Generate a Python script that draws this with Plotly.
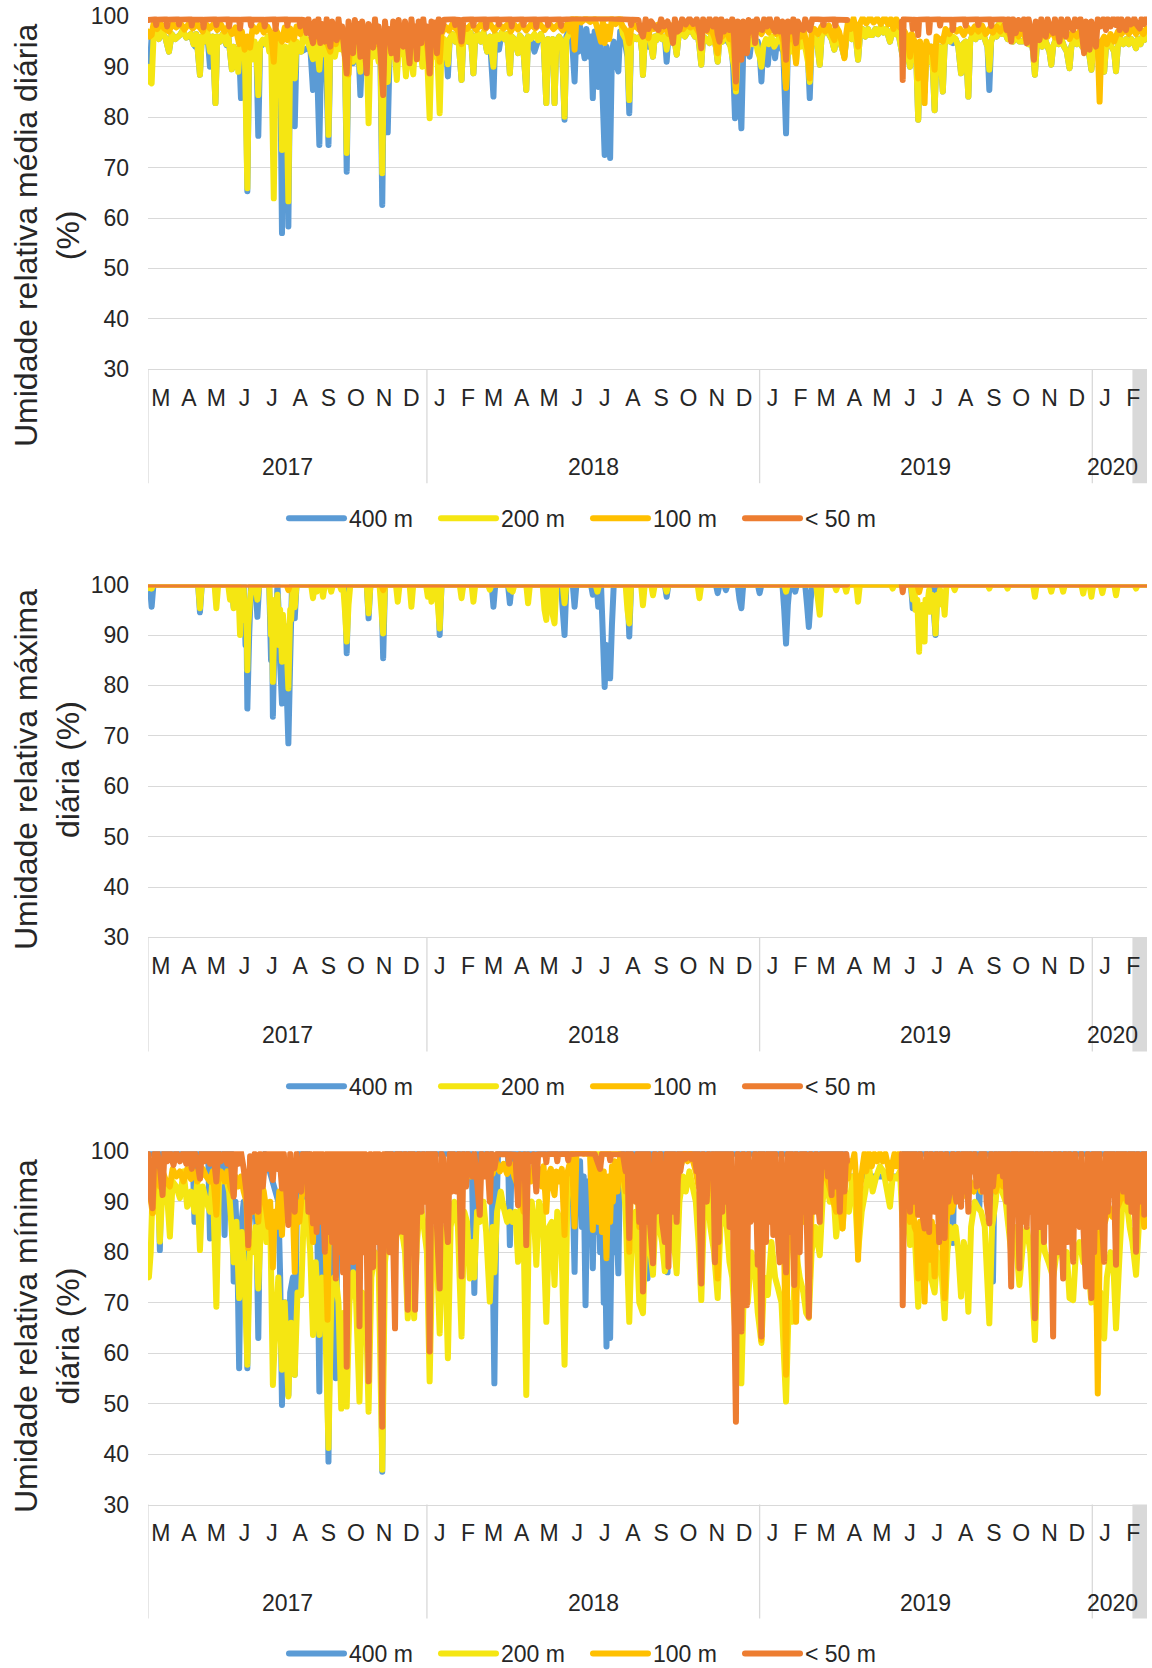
import pandas as pd
import plotly.graph_objects as go

# ---------------------------------------------------------------------------
# Categories, labels and readings
# ---------------------------------------------------------------------------
START = pd.Timestamp("2017-03-01")
END = pd.Timestamp("2020-03-01")

SERIES_NAMES = ["400 m", "200 m", "100 m", "< 50 m"]
SERIES_COLORS = ["#5B9BD5", "#F5E612", "#FFC000", "#ED7D31"]

MONTH_LETTERS = ["M", "A", "M", "J", "J", "A", "S", "O", "N", "D",
                 "J", "F", "M", "A", "M", "J", "J", "A", "S", "O", "N", "D",
                 "J", "F", "M", "A", "M", "J", "J", "A", "S", "O", "N", "D",
                 "J", "F"]
YEAR_LABELS = ["2017", "2018", "2019", "2020"]
YEAR_STARTS = ["2017-03-01", "2018-01-01", "2019-01-01", "2020-01-01"]
Y_TICKS = [30, 40, 50, 60, 70, 80, 90, 100]

PANEL_TITLES = ["Umidade relativa média diária<br>(%)",
                "Umidade relativa máxima<br>diária (%)",
                "Umidade relativa mínima<br>diária (%)"]

# Readings as (days after 1 Mar 2017, relative humidity %); None = no record

# --- daily mean ---
MEAN_400 = [(0,92),(2,90),(4,96),(6,95.5),(9,96.8),(12,95.5),(15,97),(19,95.8),(23,93),(26,96.5),(30,95.5),(35,96.3),(38,97.2),(42,95.8),(47,96.5),(50,94.5),(52,94),(53,96.5),(57,88.4),(59,96),(62,95),(65,96.8),(68,90),(71,96),(74,82.8),(76,96),(79,95),(82,96.5),(86,94.3),(88,96.2),(90,93),(92,89.5),(94,94),(96,90),(98,93.5),(100,93),(102,83.8),(104,94),(107,93),(109,65.3),(111,93),(115,94),(119,93),(121,76.3),(123,94),(130,95),(136,94),(138,90),(140,93),(145,92),(147,57),(149,92),(152,92),(154,58.3),(156,93),(159,93),(161,78.2),(163,94),(168,93),(178,94),(181,85.4),(183,94),(185,93),(188,74.5),(190,93),(195,93),(198,74.5),(200,93),(210,94),(216,93),(218,69.2),(220,93),(223,93),(225,90.7),(227,93),(231,93),(233,84.4),(235,93),(250,93),(255,92),(257,62.6),(259,92),(261,91),(263,77),(265,92),(270,93),(320,93),(327,94),(329,88.1),(331,95.5),(334,96.5),(337,95),(340,96.8),(344,87.4),(346,96),(349,96.5),(351,95),(354,96.8),(357,88.7),(359,96),(362,96.5),(365,95),(368,96.8),(372,93),(375,96),(379,84.1),(381,96.5),(385,93.4),(388,96.8),(391,95.5),(394,96.5),(397,88.7),(399,96),(402,95.5),(406,92.7),(408,96.2),(411,95.5),(415,85.4),(417,96),(420,95.5),(424,93),(428,95.3),(431,96.5),(434,95),(437,82.8),(439,95.5),(442,94.5),(444,95.5),(446,82.8),(448,95),(451,96),(454,95),(457,79.5),(459,96),(463,98),(465,96),(468,87.1),(470,97),(472,93),(474,98),(477,94),(479,91.7),(481,97.5),(484,92),(486,96),(488,83.8),(490,97),(492,90),(494,86),(496,95),(498,88),(501,72.5),(503,94),(505,86),(507,71.9),(509,93),(511,95),(513,91),(516,89.1),(518,97),(522,96),(526,92),(528,80.8),(530,95),(533,96),(536,95.5),(540,96),(542,93),(543,88.4),(545,95.5),(549,94),(551,95.5),(554,92),(556,96),(558,95.3),(561,97),(564,95.5),(567,96),(569,91),(571,96),(574,95),(577,96.3),(580,92.4),(582,96),(585,97),(589,96),(593,97.2),(597,97),(600,96),(603,96.8),(605,94),(607,90.4),(609,96),(612,95.5),(616,94.7),(618,96.5),(621,95.5),(623,94),(625,91),(627,96),(630,95),(633,95.7),(636,95),(640,94),(642,90),(644,79.8),(646,92),(648,90),(651,77.8),(653,93),(656,94),(658,95),(660,92),(662,95),(669,95),(671,93),(673,87.1),(675,94),(678,94),(680,90.4),(682,94.5),(686,95),(688,91.7),(690,95),(697,93),(700,76.8),(702,94),(712,95),(717,95.5),(719,95.3),(721,95),(724,92),(726,83.8),(728,95),(731,96),(734,95),(737,90.4),(739,96),(742,97),(744,98),(747,96.5),(750,95.5),(753,93.4),(755,96),(758,95.5),(761,94),(764,92),(766,95.5),(769,96.5),(772,95.5),(775,97),(777,95),(779,91.4),(781,96),(784,97.5),(787,96),(790,97.5),(792,96.3),(795,96.3),(798,97.5),(801,96.5),(804,98),(807,96.8),(810,97.5),(814,95),(817,97.5),(820,96.5),(823,97),(826,94),(828,92),(831,95),(834,92),(836,90),(838,94),(841,93),(843,91),(845,79.5),(847,91),(849,92),(852,85),(854,93),(857,91),(859,94),(861,90),(863,81.4),(865,92),(868,94),(870,91),(872,85.1),(874,94.5),(877,95.5),(880,95),(883,94.7),(886,95.5),(889,94),(892,88.7),(894,94.5),(897,95),(900,84.1),(902,95),(905,96.5),(908,95.5),(910,97),(913,96),(916,96.8),(919,95),(921,94),(923,85.4),(925,95),(928,96.5),(931,96),(934,98.6),(937,96.5),(940,97),(943,95.5),(946,96.5),(949,95),(952,96),(956,95),(960,95),(963,96),(966,94.5),(969,96),(971,93),(973,88.4),(975,94),(978,95.5),(981,94),(984,95.5),(987,94),(989,93),(991,90.4),(993,94),(996,95.5),(999,94.5),(1002,95.5),(1005,94),(1008,93),(1011,89.7),(1013,94),(1016,95.5),(1019,94.5),(1022,95.5),(1025,94),(1028,95),(1031,93.5),(1033,92),(1035,89.4),(1037,94),(1040,95),(1043,93),(1046,94.5),(1049,89),(1051,94),(1054,95),(1057,94),(1060,93),(1062,89.1),(1064,94),(1067,95.5),(1070,94.5),(1073,95.5),(1076,94.5),(1079,95.5),(1082,94.5),(1084,93.7),(1086,95.5),(1089,94.5),(1091,96),(1093,95.3),(1095,96)]

MEAN_200 = [(0,90),(2,87),(4,86.7),(6,95.5),(9,96.8),(12,95.5),(15,97),(19,95.8),(23,93),(26,96.5),(30,95.5),(35,96.3),(38,97.2),(42,95.8),(47,96.5),(50,94.5),(53,96.5),(57,88.4),(59,96),(62,95),(65,96.8),(68,93),(71,96),(74,82.8),(76,96),(79,95),(82,96.5),(86,94.5),(88,96.2),(90,93),(92,89.5),(94,94),(96,90),(98,93.5),(99,89),(101,94.5),(103,92.5),(106,95),(109,65.9),(111,94),(113,92),(115,91.5),(117,95),(119,92.5),(121,84.4),(123,94.5),(126,95.4),(129,94.5),(131,96),(133,93),(135,95.5),(138,63.9),(140,92),(143,90),(145,95),(147,73.5),(149,92),(151,94),(154,63.3),(156,93),(158,95.5),(161,87.7),(163,95),(165,93.5),(168,93),(170,96),(174,95.5),(177,94),(181,91.5),(183,95),(186,93),(188,89.4),(190,95),(193,92.5),(196,94),(198,76.5),(200,94.5),(203,93),(205,92),(208,95),(211,93.5),(214,95),(216,92),(218,72.9),(220,94),(222,92.5),(225,91),(227,95),(230,93),(233,89),(235,94.5),(238,92),(240,93),(242,78.8),(244,94),(247,92),(250,94.5),(253,91),(255,93.5),(257,68.9),(259,93),(261,91),(263,87),(265,94),(268,92),(270,94.5),(273,87.4),(275,94),(278,92.5),(280,95),(283,88.1),(285,94),(288,92),(291,88.5),(293,94.5),(296,93),(298,95),(301,90),(303,94),(306,93),(309,79.8),(311,94.5),(314,92),(317,95),(320,80.8),(322,94),(325,95.5),(329,90.5),(331,95.5),(334,96.5),(337,95),(340,96.8),(344,87.4),(346,96),(349,96.5),(351,95),(354,96.8),(357,88.7),(359,96),(362,96.5),(365,95),(368,96.8),(372,93),(375,96),(379,90),(381,96.5),(385,95.5),(388,96.8),(391,95.5),(394,96.5),(397,88.7),(399,96),(402,95.5),(406,92.7),(408,96.2),(411,95.5),(415,85.4),(417,96),(420,95.5),(424,96.5),(428,95.3),(431,96.5),(434,95),(437,82.8),(439,95.5),(442,94.5),(444,95.5),(446,82.8),(448,95),(451,96),(454,95),(457,80.1),(459,95.5),(462,96.5),(465,99.5),(470,99.8),(476,99.3),(482,99.8),(488,99.4),(494,99.8),(500,99.4),(506,99.8),(512,99.3),(518,99.7),(521,96.5),(524,95.5),(526,93),(528,83.4),(530,95),(533,96),(536,95.5),(540,96),(542,93),(543,88.4),(545,95.5),(548,96.5),(551,95.5),(554,92),(556,96),(558,95.3),(561,97),(564,95.5),(567,96),(569,93.4),(571,96),(574,95),(577,96.3),(580,92.4),(582,96),(585,97),(589,96),(593,97.2),(597,97),(600,96),(603,96.8),(605,94),(607,90.4),(609,96),(612,95.5),(616,94.7),(618,96.5),(621,95.5),(623,94),(625,91),(627,96),(630,95),(633,96.5),(636,95.5),(639,94),(641,92),(643,90),(645,85.1),(647,93),(649,92),(651,94),(654,95.5),(657,93),(660,95.5),(663,94.5),(666,95.8),(669,93),(671,92),(673,90),(675,94),(678,95.5),(681,94.5),(684,96),(687,94),(690,95),(693,96),(696,94.5),(698,92),(700,86),(702,94),(705,93),(708,95.5),(711,91),(713,95),(716,94),(719,95.5),(722,93),(724,91),(726,87),(728,95),(731,96),(734,95),(737,90.4),(739,96),(742,97),(744,98),(747,96.5),(750,95.5),(753,93.4),(755,96),(758,95.5),(761,94),(764,92),(766,95.5),(769,96.5),(772,95.5),(775,97),(777,95),(779,91.4),(781,96),(784,97.5),(787,96),(790,97.5),(792,96.3),(795,96.3),(798,97.5),(801,96.5),(804,98),(807,96.8),(810,97.5),(814,95),(817,97.5),(820,96.5),(823,97),(826,94),(828,92),(831,95),(834,92),(836,90),(838,94),(841,93),(843,91),(845,79.5),(847,91),(849,92),(852,85),(854,93),(857,91),(859,94),(861,90),(863,81.4),(865,92),(868,94),(870,91),(872,85.1),(874,94.5),(877,95.5),(880,95),(883,96),(886,95.5),(889,94),(892,88.7),(894,94.5),(897,95),(900,84.1),(902,95),(905,96.5),(908,95.5),(910,97),(913,96),(916,96.8),(919,95),(921,94),(923,89.4),(925,95),(928,96.5),(931,96),(934,98.6),(937,96.5),(940,97),(943,95.5),(946,96.5),(949,95),(952,96),(956,95),(960,95),(963,96),(966,94.5),(969,96),(971,93),(973,88.4),(975,94),(978,95.5),(981,94),(984,95.5),(987,94),(989,93),(991,90.4),(993,94),(996,95.5),(999,94.5),(1002,95.5),(1005,94),(1008,93),(1011,89.7),(1013,94),(1016,95.5),(1019,94.5),(1022,95.5),(1025,94),(1028,95),(1031,93.5),(1033,92),(1035,89.4),(1037,94),(1040,95),(1043,93),(1046,94.5),(1049,89),(1051,94),(1054,95),(1057,94),(1060,93),(1062,89.1),(1064,94),(1067,95.5),(1070,94.5),(1073,95.5),(1076,94.5),(1079,95.5),(1082,94.5),(1084,93.7),(1086,95.5),(1089,94.5),(1091,96),(1093,95.3),(1095,96)]

MEAN_100 = [(0,97),(2,96),(4,96.3),(6,98.5),(10,97.5),(14,98.5),(18,97.6),(23,97),(27,98.6),(31,97.8),(36,98.5),(40,97.4),(45,98.6),(49,97.6),(54,98.5),(58,97.5),(60,97),(63,98.6),(68,97.6),(72,98.5),(76,97.3),(80,98.4),(84,97),(88,98),(92,96.5),(96,97.8),(100,94.5),(103,97),(106,93.4),(109,96),(112,93.8),(115,98),(119,97),(123,98.3),(127,96.8),(131,98),(135,96.5),(138,91),(140,97.5),(144,96),(147,95),(150,97.8),(153,95.3),(156,97.6),(160,95.5),(163,98),(167,96.5),(171,98.2),(175,97),(179,98),(182,95),(185,97.5),(188,95.5),(192,97.5),(196,95),(200,93),(203,97),(206,94.5),(210,97),(214,95.5),(218,91.5),(220,88.5),(222,96),(226,95.5),(230,97),(234,94),(238,96.5),(242,95),(246,97),(250,94.5),(254,96.5),(258,88),(260,96),(264,97),(268,95),(272,96.5),(276,95.5),(280,97),(284,95),(288,96.8),(292,95.3),(296,97.5),(300,95.8),(304,97),(307,93),(309,88.7),(311,96),(314,95.5),(317,97),(320,91),(322,96.5),(326,98),(330,97.2),(334,98.5),(338,97.5),(341,97),(344,94.5),(346,98),(350,97.5),(355,98.5),(360,97.3),(365,98.4),(370,97.5),(375,98.6),(380,97.2),(385,98.4),(390,97.6),(395,98.5),(398,97),(402,98.3),(406,97.4),(410,98.5),(415,97.2),(420,98.4),(425,97.6),(430,98.5),(435,97.3),(440,98.6),(445,97.5),(450,98.4),(455,97.2),(460,98.5),(463,97),(466,99.5),(468,93.4),(470,99.5),(475,98.8),(480,99.6),(485,98.9),(490,99.5),(494,97),(497,95),(499,99),(501,94.7),(503,98),(506,95.5),(509,99.5),(513,98.5),(517,99.5),(521,98),(525,97),(528,94.7),(530,97.5),(534,98.3),(538,97.5),(541,98),(545,97),(549,95.7),(551,98),(555,97.5),(559,98.3),(563,97),(567,98),(571,96.5),(575,98.2),(579,96.8),(583,98),(587,97.5),(591,98.4),(595,97.8),(599,98.5),(603,97.2),(607,96),(610,98),(614,97),(618,97.5),(622,95.5),(625,92.7),(627,97),(630,96),(634,97.5),(638,95.5),(641,97),(643,93),(645,85.8),(647,96),(650,95),(653,97.5),(657,96),(661,97.6),(665,96),(669,97.8),(673,96.5),(677,98),(681,96.8),(685,98),(689,96.5),(693,97.5),(697,95),(700,85.8),(702,96.5),(705,95.5),(708,97.5),(711,90.7),(713,97),(716,96),(719,97.5),(722,95),(724,93),(726,87.7),(728,96.5),(731,97.5),(735,96.5),(739,98),(743,97),(747,98.2),(750,96.5),(753,95.3),(755,98),(758,97),(761,95),(764,91.7),(766,96.5),(768,99),(771,97.5),(774,99.6),(777,97),(779,94),(781,98.5),(784,99.7),(788,98.6),(792,99.8),(796,98.8),(800,99.6),(804,98.5),(808,99.8),(812,98.4),(815,99.5),(818,97.5),(821,99.5),(824,98),(827,97.5),(830,97),(833,96),(836,92),(838,96.5),(841,95),(843,93),(845,87.7),(847,95),(850,92),(852,82.8),(854,95),(857,93),(860,94),(863,89.4),(865,96),(868,95.5),(872,95),(875,97.5),(879,96.5),(883,97.8),(887,97),(891,97.5),(895,96.3),(899,97.8),(903,96.8),(907,98),(911,97),(915,98.2),(919,96.5),(923,97.5),(927,96.8),(931,98),(935,97),(939,98.2),(943,97),(947,96),(951,97.5),(955,96),(959,97.5),(963,95.5),(967,97.5),(971,95.5),(975,97),(979,95.8),(983,97.2),(987,96),(991,97.3),(995,95.8),(999,97),(1003,96),(1007,97.2),(1011,95.5),(1015,97),(1019,96),(1023,97.3),(1027,95.5),(1031,97),(1035,95.5),(1039,96.5),(1042,94),(1044,83.1),(1046,95),(1049,96),(1052,94.5),(1056,96.5),(1060,95),(1064,97),(1068,96.5),(1072,97.5),(1076,96.5),(1080,97.8),(1084,96.5),(1088,97.5),(1092,96.5),(1095,97.5)]

MEAN_LT50 = [(0,99.3),(8,99.5),(9,98.3),(10,99.4),(20,99.5),(21,98),(22,99.4),(33,99.5),(34,98.4),(35,99.4),(47,99.5),(48,98.2),(49,99.4),(60,99.4),(61,97.8),(62,99.4),(74,99.5),(75,98.3),(76,99.4),(88,99.5),(89,98),(90,99.4),(100,99.4),(101,97.6),(102,99.4),(112,99.5),(113,98.2),(114,99.4),(127,99.4),(128,98),(129,99.4),(139,99.5),(140,97.5),(141,99.4),(152,99.5),(153,98.2),(154,99.4),(166,99.4),(167,98),(168,99.4),(172,99.2),(174,96.7),(176,99.5),(178,97),(181,94.7),(183,99),(185,96),(187,99.5),(189,94.7),(191,98.5),(194,95),(196,99.5),(198,95.5),(200,94),(202,99),(204,96),(207,95.3),(209,99.5),(211,96),(213,98),(215,94),(218,88.7),(220,99),(222,95),(225,92.7),(227,99.3),(229,95),(231,98.5),(233,92),(235,99),(237,95.5),(240,88.7),(242,98.5),(244,96),(247,93.8),(249,99.5),(251,95),(253,98),(255,93),(258,84.4),(260,99),(262,95),(264,97.5),(267,92.7),(269,99),(271,96),(273,91.4),(275,99.3),(277,95),(280,94),(282,99),(284,96),(287,90.7),(289,99.5),(291,96),(293,98),(295,91.5),(297,99),(300,94.7),(302,99.5),(304,96),(306,98),(309,88.7),(311,99),(313,96),(315,98.8),(317,92.7),(319,99.5),(322,97),(325,99.4),(336,99.5),(337,98.3),(338,99.4),(342,99.3),(344,95),(346,99.4),(356,99.5),(357,98.2),(358,99.4),(370,99.5),(371,97.8),(372,99.4),(384,99.5),(385,98.4),(386,99.4),(398,99.5),(399,98),(400,99.4),(411,99.5),(412,98.3),(413,99.4),(425,99.5),(426,97.9),(427,99.4),(438,99.5),(439,98.3),(440,99.4),(452,99.5),(453,98.1),(454,99.4),(466,99.6),(480,99.6),(494,99.6),(508,99.6),(520,99.5),(529,99.4),(530,98.3),(531,99.4),(538,99.3),(540,97.3),(543,96),(546,99.5),(549,97.5),(552,99),(556,98),(560,97.3),(563,99.5),(566,98),(570,99),(573,97.5),(576,94.7),(578,99.5),(581,97),(583,97.3),(586,99.5),(590,98.4),(594,99.6),(598,98.5),(602,99.5),(605,97),(607,93.7),(609,99.5),(611,97.5),(613,97.3),(616,99.6),(620,98),(623,99.5),(625,96.5),(627,95),(629,99.5),(632,97),(635,99),(638,97.3),(641,99.5),(643,96),(645,87.1),(647,99),(649,95),(651,91.4),(653,99),(655,96),(657,92.7),(659,99.3),(662,97),(664,99),(666,94.7),(668,99.5),(671,97.5),(674,97.3),(676,99.5),(679,98),(682,99.6),(685,98),(688,97),(690,99.5),(693,97),(696,99),(698,96),(700,91.4),(702,99),(705,97),(708,99.5),(711,94.7),(713,99),(716,97.5),(719,97.3),(721,99.5),(724,98),(726,97.3),(729,99.6),(740,99.4),(741,98.3),(742,99.4),(753,99.5),(754,98.2),(755,99.4),(767,99.3),(797,None),(827,99),(828,87.4),(829,99.5),(838,99.4),(839,97.5),(840,99.4),(844,99.3),(845,96.3),(846,99.4),(856,99.5),(857,96.8),(858,99.4),(868,99.5),(869,98.2),(870,99.4),(882,99.4),(883,97.3),(884,99.4),(896,99.5),(897,98.2),(898,99.4),(910,99.5),(911,98.3),(912,99.4),(924,99.5),(925,98.1),(926,99.4),(938,99.5),(940,99.4),(942,97.3),(944,99.5),(947,95),(949,99.5),(952,96.7),(955,99.3),(958,97.5),(961,99.5),(964,94.7),(966,99.5),(969,97),(972,91.4),(974,99),(976,96),(978,95.3),(980,99.5),(982,97),(985,96),(987,99.5),(990,97.5),(993,96.7),(995,99.5),(998,97),(1000,95),(1002,99.5),(1005,97),(1007,96),(1009,99.5),(1012,98),(1015,97.3),(1017,99.5),(1020,98),(1023,99.5),(1025,96),(1027,92.7),(1029,99),(1031,96),(1033,93.4),(1035,99),(1037,97),(1040,94),(1042,99.5),(1045,98),(1048,99.5),(1051,97.3),(1053,99.5),(1056,98),(1059,99.6),(1062,98.3),(1064,99.5),(1066,97.3),(1068,99.5),(1071,98),(1073,97.3),(1075,99.5),(1078,98.4),(1080,98.6),(1082,99.6),(1085,98.3),(1088,97.6),(1090,99.5),(1093,98.5),(1095,99.6)]

# --- daily maximum ---
MAX_400 = [(0,100),(2,100),(4,95.6),(6,100),(55,100),(57,94.5),(59,100),(92,100),(94,95.5),(96,100),(105,100),(107,88),(108,94),(109,75.4),(111,90),(113,100),(118,100),(120,93.6),(122,100),(133,100),(135,85),(136,95),(137,73.8),(139,92),(140,88),(142,100),(143,96),(145,84),(147,76.4),(149,92),(150,82),(152,80),(154,68.5),(156,85),(158,100),(159,100),(161,93.3),(163,100),(216,100),(218,86.4),(220,100),(240,100),(242,93.3),(244,100),(256,100),(258,85.4),(260,100),(318,100),(320,90),(322,100),(377,100),(379,95.6),(381,100),(395,100),(397,96.3),(399,100),(453,100),(455,95),(457,90),(459,100),(466,100),(468,95.6),(470,100),(486,100),(488,98),(490,100),(492,100),(494,95.6),(496,100),(497,100),(499,90),(501,79.7),(503,88),(505,85),(507,81.4),(509,92),(511,100),(526,100),(528,89.7),(530,100),(567,100),(569,97.6),(571,100),(623,100),(625,98.3),(627,100),(632,100),(634,98.9),(636,100),(647,100),(649,97),(651,95.3),(653,100),(669,100),(671,98.3),(673,100),(696,100),(698,95),(700,88.3),(702,96),(704,100),(708,100),(710,98.6),(712,100),(721,100),(723,96),(725,91.6),(727,97),(729,100),(837,100),(839,95.3),(841,100),(860,100),(862,95),(864,90),(866,100),(1095,100)]

MAX_200 = [(0,99.3),(2,100),(4,99.2),(6,100),(55,100),(57,95.3),(59,100),(73,100),(75,95.3),(77,100),(88,100),(90,97),(92,100),(94,95.3),(96,99),(97,96),(99,100),(101,90),(102,97),(104,95),(105,99),(106,93),(108,95),(109,83),(110,92),(112,97),(114,100),(118,100),(120,97),(122,100),(133,100),(135,90),(136,97),(137,80.7),(139,95),(140,92),(142,98),(144,88),(145,95),(147,84.7),(148,94),(150,90),(152,88),(154,79.4),(156,95),(157,93),(159,100),(161,95.5),(163,100),(179,100),(181,97.3),(183,100),(185,98.6),(187,100),(190,100),(192,97.6),(194,100),(199,100),(201,98.6),(203,100),(210,100),(212,99),(214,100),(216,95),(218,88.7),(220,96),(222,100),(240,100),(242,94.3),(244,100),(254,100),(256,95),(258,90.3),(260,100),(272,100),(274,96.6),(276,100),(287,100),(289,95.6),(291,100),(305,100),(307,97.6),(309,100),(311,96.6),(313,100),(316,100),(318,96),(320,91.3),(322,100),(342,100),(344,97.3),(346,100),(355,100),(357,96.6),(359,100),(373,100),(375,99),(377,100),(395,100),(397,99),(399,100),(400,98.6),(402,100),(415,100),(417,96.3),(419,100),(433,100),(435,95),(437,93),(439,100),(442,100),(444,94),(446,92.3),(448,100),(455,100),(457,96.3),(459,100),(491,100),(493,98.6),(495,100),(524,100),(526,95),(528,92.3),(530,100),(541,100),(543,95.9),(545,100),(552,100),(554,97.9),(556,100),(567,100),(569,98.6),(571,100),(603,100),(605,97.3),(607,100),(698,100),(700,98.6),(702,100),(733,100),(735,97),(737,94),(739,100),(753,100),(755,98.9),(757,100),(764,100),(766,98.6),(768,100),(777,100),(779,96.6),(781,100),(815,100),(817,99.2),(819,100),(837,100),(839,97),(841,99),(842,95),(844,97),(846,86.7),(847,95),(849,90),(850,96),(852,88.7),(853,97),(855,96),(857,99),(858,94.6),(860,98),(861,95),(862,97),(864,90.3),(866,98),(867,97),(869,99),(871,96),(872,98),(874,94),(876,100),(883,100),(885,98.9),(887,100),(921,100),(923,99.2),(925,100),(941,100),(943,99.2),(945,100),(971,100),(973,97.6),(975,100),(989,100),(991,98.6),(993,100),(1002,100),(1004,98.6),(1006,100),(1024,100),(1026,98.2),(1028,100),(1033,100),(1035,97.6),(1037,100),(1045,100),(1047,98.3),(1049,100),(1060,100),(1062,97.9),(1064,100),(1082,100),(1084,99.2),(1086,100),(1095,100)]

MAX_100 = [(0,100),(152,100),(154,98.9),(156,100),(256,100),(258,98.9),(260,100),(844,100),(846,98.5),(848,100),(1095,100)]

MAX_LT50 = [(0,100),(767,100),(797,None),(827,100),(828,98.5),(829,100),(1095,100)]

# --- daily minimum ---
MIN_400 = [(0,99.5),(11,99.5),(13,80.4),(15,99.5),(49,99.5),(51,86),(53,99.5),(66,99.5),(68,82.7),(70,99.5),(82,99.5),(84,83.4),(86,99.5),(92,99.5),(94,74.2),(96,90),(98,80),(100,57),(102,85),(105,90),(107,80),(109,57),(111,85),(116,95),(119,85),(121,63),(123,90),(128,99.5),(143,90),(145,75),(147,49.7),(149,70),(151,70),(154,51.7),(156,72),(159,75),(161,55.7),(163,85),(166,99.5),(172,99.5),(174,84.7),(176,99.5),(185,95),(188,52.4),(190,90),(195,80),(198,38.5),(200,80),(203,85),(206,55),(208,90),(222,95),(225,75.8),(227,95),(253,95),(255,80),(257,36.5),(259,85),(262,99.5),(355,99.5),(358,71.9),(361,99.5),(377,99.5),(378,80),(380,54),(382,85),(384,99.5),(395,99.5),(397,81.4),(399,99.5),(463,99.5),(465,99),(468,76.1),(470,97),(472,88),(474,98),(476,85),(478,95),(480,69.5),(482,94),(484,86),(486,96),(488,76.8),(490,94),(492,84),(494,97),(496,80),(498,92),(500,70),(501,88),(503,61.3),(505,85),(507,63),(509,88),(511,80),(513,92),(516,75.8),(518,99.5),(546,99.5),(548,74.8),(550,99.5),(568,99.5),(570,76),(572,99.5),(620,99.5),(622,78.1),(624,99.5),(684,99.5),(686,95),(688,99.5),(765,99.5),(768,95),(826,95),(829,99.5),(881,99.5),(883,81.8),(885,99.5),(910,99.5),(912,88.7),(914,99.5),(925,99.5),(927,74.2),(929,99.5),(1095,99.5)]

MIN_200 = [(0,76),(1,75),(3,80),(5,92),(7,88),(10,95),(13,82.1),(16,93),(20,94),(24,83.1),(27,94),(31,93),(35,90.7),(39,96),(43,89),(47,92),(51,88),(54,94),(57,80.4),(60,93),(64,90),(68,88),(71,95),(75,69.2),(78,95),(81,94),(86,94.6),(89,92),(92,84),(94,78),(97,86),(100,70.9),(103,84),(106,75),(109,57.7),(112,82),(115,80),(118,85),(121,72.8),(124,86),(127,90),(130,82),(134,88),(137,53.7),(140,66),(143,75),(147,56.7),(150,70),(154,51.4),(157,66),(161,55.7),(164,72),(168,71.5),(171,88),(174,90),(178,80),(181,63.6),(184,78),(188,63.6),(191,75),(194,70),(198,41.2),(201,70),(204,75),(206,75),(209,70),(212,49),(215,68),(218,49.4),(221,70),(225,76),(228,72),(232,50.4),(235,72),(239,70),(242,48.4),(245,75),(249,80),(253,78),(257,36.9),(260,78),(264,85),(268,88),(271,80),(275,88),(278,85),(282,80),(285,66.9),(288,80),(292,66.9),(295,82),(299,90),(302,86),(306,80),(309,54.4),(312,80),(316,85),(320,63.9),(323,85),(326,80),(329,59),(332,85),(336,90),(340,85),(344,63.3),(347,88),(350,86),(353,74.8),(356,82),(358,75),(361,88),(364,86),(368,90),(371,84),(375,70.2),(378,85),(380,76),(383,88),(387,92),(390,89),(394,86),(397,88),(400,86),(403,88),(406,78.1),(409,90),(412,85),(415,51.7),(418,88),(421,90),(424,85),(426,77.5),(429,90),(433,88),(437,66.2),(440,85),(443,86),(446,73.5),(449,88),(453,86),(457,57.7),(460,90),(463,95),(466,99.5),(475,99.8),(485,99.4),(495,99.8),(505,99.4),(515,99.8),(520,99),(524,88),(528,66.2),(531,85),(535,88),(539,70),(543,67.9),(546,85),(550,82),(554,75.5),(557,88),(561,85),(564,82),(567,76.2),(571,80),(574,88),(577,82),(580,75.8),(583,90),(587,95),(590,92),(594,96),(598,92.6),(601,90),(604,82),(607,70.5),(610,88),(614,92),(617,85),(621,80),(625,70.9),(628,85),(632,89),(635,85),(638,78),(641,75),(645,62),(648,65),(651,54),(654,75),(658,70),(662,80),(666,76),(669,68),(673,62),(676,75),(680,71.5),(684,82),(688,75),(691,73),(695,70),(700,50.4),(703,70),(707,66.2),(711,80),(715,75),(719,72),(722,68),(725,67),(728,80),(732,85),(737,79.4),(740,90),(744,94.6),(748,90),(752,92),(755,83.1),(758,88),(762,84.7),(765,92),(769,88),(773,95),(776,90),(779,80),(783,88),(787,92),(791,97),(795,92),(799,95),(803,97),(807,96),(811,92),(814,89),(817,95),(821,94.6),(825,96),(828,85),(832,90),(836,81.4),(840,88),(845,69.2),(848,80),(852,72),(855,80),(859,75),(863,72),(866,80),(870,78),(874,66.9),(877,80),(880,85),(883,82.8),(886,85),(889,80),(892,71.2),(895,82),(897,80),(900,68.2),(903,85),(907,90),(910,89),(914,88),(918,85),(923,65.9),(926,85),(930,90),(933,97.3),(937,92),(941,90),(944,85),(947,80),(951,85),(956,73.5),(960,82),(964,85),(968,80),(973,62.6),(976,78),(980,85),(984,80),(988,78),(993,75),(997,80),(1001,82),(1004,78),(1008,80),(1011,70.9),(1015,70.5),(1018,80),(1022,82),(1026,78),(1030,80),(1035,70),(1038,78),(1042,65),(1045,72),(1049,62.9),(1052,75),(1056,80),(1059,78),(1062,64.9),(1066,80),(1069,90),(1073,91.3),(1077,85),(1080,82),(1084,75.5),(1087,85),(1091,90),(1095,92)]

MIN_100 = [(0,95),(2,92),(5,87.7),(7,95),(10,96),(13,93),(16,96),(20,94),(24,93),(27,96.5),(31,95),(35,96),(39,94),(43,96.5),(47,94.5),(51,96),(54,94),(57,94.6),(60,96.5),(64,95),(68,94),(71,96),(73,92),(75,87.4),(77,95),(80,96),(84,94),(87,96),(90,93),(92,92),(94,91.3),(96,95),(99,93),(102,95),(105,92),(108,90),(110,80.8),(112,92),(115,88),(118,92),(121,86),(124,94),(127,92),(130,88),(132,85),(134,90),(137,77),(139,88),(141,85),(144,92),(147,83.4),(149,92),(152,88),(154,86),(156,91),(159,88),(161,76.1),(163,90),(166,86),(168,90),(171,94),(174,95),(177,92),(181,82),(183,94),(186,90),(189,93),(192,90),(195,80),(197,66.6),(199,90),(202,92),(206,88),(210,92),(214,88),(218,85),(222,90),(226,88),(230,92),(234,89),(238,92),(242,88),(246,92),(250,89),(254,92),(258,86),(262,92),(266,89),(270,92),(274,88),(278,93),(282,90),(286,93),(290,90),(294,93),(298,91),(302,94),(306,92),(310,94),(314,92),(318,95),(322,93),(326,96),(330,94),(334,96.5),(338,95),(342,97),(346,95.5),(350,97),(354,95),(358,97),(362,95),(366,97.5),(370,95.5),(374,97.5),(378,95.5),(382,98),(386,96),(390,97.5),(394,95.5),(398,97.5),(402,95),(406,93),(408,96),(410,90),(412,88),(414,95),(417,96),(420,94),(423,97),(426,94),(429,96.5),(432,93),(434,97),(437,88),(439,95),(442,96.5),(444,93),(446,91.3),(448,96),(451,94),(454,96.5),(457,83.4),(459,95),(462,97),(465,99.5),(468,85.1),(470,99.5),(474,99.8),(478,99.5),(482,99.8),(485,99),(488,84.4),(490,98),(492,88),(494,86),(496,97),(498,84),(500,96),(503,78.8),(505,95),(507,86),(509,97),(510,90),(512,98),(515,92),(518,99),(521,96),(524,92),(526,96),(528,80.1),(530,94),(533,92),(536,95),(539,85),(541,94),(544,92),(547,95),(550,90),(553,94),(556,91),(559,95),(562,90),(565,94),(568,91),(571,94),(574,92),(577,95),(580,93),(583,96),(586,98),(589,99.5),(592,98),(595,99.5),(598,98),(601,96),(604,93),(607,92),(610,95),(613,93),(616,97),(619,94),(622,88),(625,74.8),(627,92),(630,94),(633,92),(636,95),(639,90),(642,92),(645,88),(648,90),(651,85),(654,90),(657,88),(660,92),(663,88),(666,92),(669,84),(671,80),(673,62.6),(675,88),(678,92),(681,88),(684,92),(687,88),(690,91),(693,86),(696,88),(698,80),(700,55.7),(702,85),(705,88),(708,82),(711,66.2),(713,85),(716,90),(719,86),(722,88),(724,84),(726,75),(728,88),(731,92),(734,90),(737,93),(740,95),(743,97),(746,94),(749,92),(752,90),(755,88),(757,93),(760,88),(762,84.7),(764,92),(766,95),(768,94.6),(770,98),(772,97),(775,99.5),(777,94),(779,78.5),(781,92),(784,97),(786,99.5),(788,96),(791,99.6),(794,97),(797,99.5),(800,98),(803,99.6),(806,98),(809,99.5),(812,97),(814,94.6),(816,97),(819,99.5),(821,97),(824,99.5),(826,96),(828,92),(831,90),(834,88),(836,86),(838,90),(841,85),(843,84),(845,74.8),(847,86),(849,84),(852,70.2),(854,84),(856,80),(858,78.5),(860,86),(863,75.2),(865,85),(868,82),(871,84),(874,70.9),(876,86),(879,90),(882,88),(886,92),(890,90),(894,93),(898,91),(902,94),(906,92),(910,95),(914,92),(918,94),(922,91),(926,94),(930,92),(934,95),(938,93),(942,94),(946,90),(950,92),(954,88),(958,92),(962,88),(966,91),(970,88),(974,90),(978,88),(982,90),(986,87),(990,90),(994,87),(998,90),(1002,86),(1006,89),(1010,87),(1014,90),(1018,86),(1022,89),(1026,86),(1030,89),(1034,86),(1038,88),(1040,80),(1042,52),(1044,80),(1047,88),(1050,86),(1054,89),(1058,87),(1062,88),(1066,90),(1070,92),(1074,90),(1078,92),(1082,89),(1086,92),(1090,90),(1093,85),(1095,90)]

MIN_LT50 = [(0,99.5),(2,92),(5,88.7),(7,99.5),(10,100),(13,97),(16,91.3),(18,99.8),(21,98),(24,99.8),(28,97.3),(31,99.8),(35,98),(39,99.8),(42,97.5),(45,99.8),(48,96.5),(51,99.8),(54,98),(57,94.6),(59,99.8),(62,98),(65,99.8),(68,97.5),(71,99.8),(73,97.5),(75,94),(77,99.8),(80,98),(84,99.8),(87,97.5),(90,99.8),(92,95),(94,91),(96,99.8),(99,97.5),(102,99.8),(105,96.5),(108,92),(110,81.4),(112,99),(115,88),(117,99.5),(119,90),(121,88),(123,99.5),(126,93),(129,99.8),(132,96.5),(134,99.8),(137,94.3),(139,99.8),(142,96.5),(144,99.8),(147,92.6),(149,99.5),(151,94),(154,85.4),(156,99.5),(158,92),(161,88),(163,99.5),(165,94),(168,92),(170,99.5),(172,97),(174,99.5),(176,88),(178,99.5),(181,85.7),(183,99.5),(185,84),(187,99.5),(189,86),(191,99.5),(194,80.1),(196,99.5),(198,84),(200,99.5),(202,82),(204,99.5),(206,74.8),(208,99.5),(210,80),(212,99.5),(214,76),(216,99.5),(218,57.3),(220,99.5),(222,80),(223,99.5),(225,78),(227,99.5),(229,82),(230,99.5),(232,65.3),(234,99.5),(236,80),(238,99.5),(240,82),(242,54.4),(244,99.5),(245,80),(247,77),(249,99.5),(251,82),(253,99.5),(255,80),(257,45.4),(259,99.5),(261,85),(263,99.5),(265,80),(267,99.5),(269,82),(271,64.9),(273,99.5),(275,84),(277,99.5),(280,84),(282,99.5),(285,68.6),(287,99.5),(289,82),(291,99.5),(293,68.6),(295,85),(297,99.5),(300,88),(302,99.5),(304,90),(306,94.6),(307,99.5),(309,60.3),(311,99.5),(313,88),(315,99.5),(317,85),(320,72.8),(322,99.5),(324,98.6),(326,90),(329,82),(331,99.5),(333,92),(335,99.5),(338,92),(341,99.5),(344,75.2),(346,99.5),(349,93),(351,99.5),(353,98.6),(356,95),(358,99.5),(361,94),(364,87.4),(366,99.5),(369,95),(372,99.5),(375,90),(377,99.5),(380,96.6),(383,99.5),(387,99.4),(395,99.4),(396,97.5),(397,99.4),(403,99.3),(406,89.3),(408,99.4),(411,96),(413,99.4),(415,81.4),(417,99.4),(420,98),(423,99.4),(426,92),(428,99.4),(436,99.4),(437,97.8),(438,99.4),(448,99.5),(449,98),(450,99.4),(460,99.5),(461,98.2),(462,99.4),(476,99.6),(490,99.5),(496,96.5),(498,99.5),(506,99.5),(507,98.2),(508,99.4),(518,99.4),(521,99.5),(524,96),(526,99.5),(528,82.8),(530,99.5),(533,97),(535,90),(537,99.5),(539,86),(541,99.5),(543,72.2),(545,99.5),(547,86),(549,99.5),(551,85),(554,77.8),(556,99.5),(558,88),(560,91.3),(562,99.5),(564,86),(567,82),(569,99.5),(571,77.1),(573,99.5),(575,88),(577,99.5),(580,86),(582,99.5),(584,96),(587,99.8),(590,98.5),(593,99.8),(596,98.5),(599,99.8),(602,96),(604,99.5),(607,73.8),(609,99.5),(611,92),(613,90),(615,99.5),(618,97),(620,99.5),(622,78),(624,99.5),(626,82),(628,99.5),(630,88),(632,99.5),(634,90),(636,99.5),(638,85),(640,99.5),(642,84),(645,46.4),(647,99.5),(649,82),(651,64.3),(653,99.5),(655,84),(657,69.5),(659,99.5),(661,86),(664,87.4),(666,99.5),(669,77.5),(671,99.5),(673,63.3),(675,99.5),(678,82),(680,99.5),(682,86),(684,99.5),(686,83.4),(688,99.5),(690,86),(693,78),(695,99.5),(697,85),(700,76),(702,99.5),(704,84),(706,99.5),(709,73.5),(711,99.5),(713,86),(715,80),(717,99.5),(719,88),(721,99.5),(723,84),(725,67.2),(727,99.5),(729,88),(731,88),(733,99.5),(735,90),(737,86),(739,99.5),(742,97),(744,99.8),(746,95),(748,99.8),(750,91.3),(752,99.5),(755,93),(757,99.8),(759,88),(761,99.5),(764,92),(766,99.5),(767,98),(797,None),(827,99.5),(828,69.5),(830,99.5),(832,92),(834,99.5),(836,88),(838,99.5),(840,90),(842,99.5),(845,87.4),(847,99.5),(849,88),(852,84.7),(854,99.5),(857,84),(859,99.5),(861,90),(863,88),(865,99.5),(868,82),(870,99.5),(872,88),(874,82.8),(876,99.5),(878,90),(881,95),(883,99.5),(885,92),(887,90),(889,99.5),(892,89),(894,99.5),(896,92),(898,99.5),(900,88),(902,99.5),(905,96),(907,99.5),(909,93),(912,94),(914,99.5),(916,92),(918,99.5),(920,90),(923,85.7),(925,99.5),(927,93),(930,99.5),(932,96),(934,99.5),(936,99.8),(938,95),(940,99.5),(942,90),(944,99.5),(947,73.2),(949,99.5),(951,90),(953,99.5),(956,76.8),(958,99.5),(960,86),(962,99.5),(964,85),(966,99.5),(968,88),(970,99.5),(973,66.9),(975,99.5),(978,85),(980,99.5),(983,82),(985,99.5),(987,86),(989,99.5),(991,85),(993,63.3),(995,99.5),(998,80),(1000,99.5),(1002,86),(1004,74.8),(1006,99.5),(1009,82),(1011,99.5),(1013,86),(1015,78.1),(1017,99.5),(1019,88),(1022,85),(1024,99.5),(1026,86),(1029,73.2),(1031,99.5),(1033,84),(1035,70.9),(1037,99.5),(1038,80),(1040,99.5),(1042,85),(1044,99.5),(1046,88),(1049,78.1),(1051,99.5),(1053,88),(1055,99.5),(1057,91.3),(1059,99.5),(1062,77.5),(1064,99.5),(1066,96),(1068,99.5),(1070,92),(1072,99.5),(1075,90),(1077,99.5),(1079,88),(1081,99.5),(1084,80.1),(1086,99.5),(1088,90),(1090,92),(1092,99.5),(1093,87.4),(1095,99.5)]

# ---------------------------------------------------------------------------
# Page geometry (pixels) and styling
# ---------------------------------------------------------------------------
W, H = 1152.0, 1668.0
PLOT_LEFT, PLOT_RIGHT = 148.0, 1147.0
PANELS = [
    dict(series=[MEAN_400, MEAN_200, MEAN_100, MEAN_LT50], top=16.4, bottom=369.2, title_y=235),
    dict(series=[MAX_400, MAX_200, MAX_100, MAX_LT50], top=584.6, bottom=937.4, title_y=770),
    dict(series=[MIN_400, MIN_200, MIN_100, MIN_LT50], top=1151.2, bottom=1504.5, title_y=1336),
]
GRID = "#D9D9D9"
TEXT = "#262626"
FONT = "Liberation Sans, Arial, Helvetica, sans-serif"
TICK_SIZE = 23
TITLE_SIZE = 32
LINE_W = 6


def py(px):
    """Convert a pixel row (from the top) to paper coordinates."""
    return 1 - px / H


month_starts = pd.date_range(START, periods=len(MONTH_LETTERS), freq="MS")
month_mids = month_starts + pd.Timedelta(days=14)
year_edges = [pd.Timestamp(s) for s in YEAR_STARTS] + [END]

fig = go.Figure()
layout = dict(
    width=int(W), height=int(H),
    margin=dict(l=0, r=0, t=0, b=0, autoexpand=False),
    paper_bgcolor="white", plot_bgcolor="white",
    font=dict(family=FONT, color=TEXT, size=TICK_SIZE),
    showlegend=True,
)
shapes, annotations = [], []

for i, panel in enumerate(PANELS):
    sfx = "" if i == 0 else str(i + 1)
    xa, ya, lg = "x" + sfx, "y" + sfx, "legend" + sfx

    for name, color, pts in zip(SERIES_NAMES, SERIES_COLORS, panel["series"]):
        days = [p[0] for p in pts]
        vals = [p[1] for p in pts]
        fig.add_trace(go.Scatter(
            x=START + pd.to_timedelta(days, unit="D"), y=vals,
            mode="lines", name=name, legend=lg,
            line=dict(color=color, width=LINE_W, simplify=False),
            connectgaps=False, hoverinfo="skip",
            xaxis=xa, yaxis=ya,
        ))

    layout["yaxis" + sfx] = dict(
        domain=[py(panel["bottom"]), py(panel["top"])], anchor=xa,
        range=[30, 100], tickvals=Y_TICKS, ticks="", showline=False,
        showgrid=True, gridcolor=GRID, gridwidth=1.3, zeroline=False,
        ticklabelstandoff=18, tickfont=dict(size=TICK_SIZE, color=TEXT),
        fixedrange=True,
    )
    layout["xaxis" + sfx] = dict(
        domain=[PLOT_LEFT / W, PLOT_RIGHT / W], anchor=ya, type="date",
        range=[START, END], tickvals=list(month_mids), ticktext=MONTH_LETTERS,
        tickangle=0, ticks="", showgrid=False, zeroline=False,
        showline=True, linecolor=GRID, linewidth=1.3,
        ticklabelstandoff=8, tickfont=dict(size=TICK_SIZE, color=TEXT),
        fixedrange=True,
    )
    layout[lg] = dict(
        orientation="h", x=284 / W, xanchor="left",
        y=py(panel["bottom"] + 149), yanchor="middle",
        font=dict(size=TICK_SIZE, color=TEXT), bgcolor="rgba(0,0,0,0)",
        entrywidth=82, entrywidthmode="pixels", itemwidth=55,
        traceorder="normal",
    )

    axis_y0 = py(panel["bottom"])
    axis_y1 = py(panel["bottom"] + 114)
    # highlighted last category cell
    shapes.append(dict(type="rect", xref=xa, yref="paper",
                       x0=pd.Timestamp("2020-02-14"), x1=END, y0=axis_y1, y1=axis_y0,
                       fillcolor=GRID, line=dict(width=0), layer="below"))
    # year separators of the category axis
    for edge in year_edges[:-1]:
        shapes.append(dict(type="line", xref=xa, yref="paper",
                           x0=edge, x1=edge, y0=axis_y0, y1=axis_y1,
                           line=dict(color=GRID, width=1.3), layer="below"))
    # year labels
    for label, a, b in zip(YEAR_LABELS, year_edges[:-1], year_edges[1:]):
        annotations.append(dict(
            text=label, xref=xa, yref="paper", x=a + (b - a) / 2,
            y=py(panel["bottom"] + 98), xanchor="center", yanchor="middle",
            xshift=-7 if label == "2020" else 0,
            showarrow=False, font=dict(size=TICK_SIZE, color=TEXT)))
    # axis title
    annotations.append(dict(
        text=PANEL_TITLES[i], xref="paper", yref="paper",
        x=47 / W, y=py(panel["title_y"]), xanchor="center", yanchor="middle",
        textangle=-90, showarrow=False,
        font=dict(size=TITLE_SIZE, color=TEXT)))

layout["shapes"] = shapes
layout["annotations"] = annotations
fig.update_layout(**layout)

round_lines = ("document.querySelectorAll('.js-line').forEach(function(p){"
               "p.style.strokeLinejoin='round';p.style.strokeLinecap='round';});")
fig.write_html("out.html", post_script=round_lines)
